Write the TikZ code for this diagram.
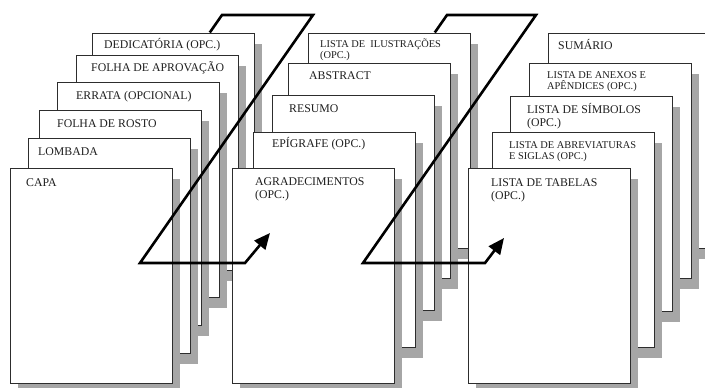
\documentclass[tikz,border=0pt]{standalone}
\usepackage{fontspec}
\setmainfont{Liberation Serif}
\usetikzlibrary{arrows.meta,shadows}
\definecolor{shadowgrey}{RGB}{166,166,166}
\definecolor{edgegrey}{RGB}{45,45,45}
\definecolor{inkgrey}{RGB}{30,30,30}
\tikzset{%
    page/.style={%
        draw=edgegrey, line width=1pt, fill=white, inner sep=0pt,
        anchor=north west, minimum width=162pt, minimum height=215pt,
        drop shadow={shadow xshift=7pt, shadow yshift=-10pt, fill=shadowgrey, opacity=1}
    },
    pagetext/.style={%
        anchor=base west, inner sep=0pt, text=inkgrey, align=left,
        font=\fontsize{11.8}{13}\selectfont
    },
    smalltext/.style={pagetext, font=\fontsize{10.4}{11.5}\selectfont},
    turn/.style={line width=2.6pt, -{Triangle[length=16pt,width=14pt]}}
}

\begin{document}
\begin{tikzpicture}[x=1pt, y=-1pt]
    \useasboundingbox (0,0) rectangle (705,388);
    \foreach \nm/\px/\py in {dedicatoria/92/33, aprovacao/76/55, errata/57/82,
        rosto/39/110, lombada/28/138, capa/10/168,
        ilustracoes/308/33, abstract/288/63, resumo/272/95, epigrafe/253/132,
        agradecimentos/232/168,
        sumario/548/33, anexos/529/63, simbolos/510/96, abreviaturas/492/132,
        tabelas/468/168}
    {
    \node[page] (\nm) at (\px,\py) {};
    }
    % two-line labels sit on the baseline of their last line
    \node[pagetext] (capa-txt) at (26,186) {CAPA};
    \node[pagetext] (lombada-txt) at (38,155) {LOMBADA};
    \node[pagetext] (rosto-txt) at (57,127) {FOLHA DE ROSTO};
    \node[pagetext] (errata-txt) at (76,99) {ERRATA (OPCIONAL)};
    \node[pagetext] (aprovacao-txt) at (91,71) {FOLHA DE APROVAÇÃO};
    \node[pagetext] (dedicatoria-txt) at (104,48) {DEDICATÓRIA (OPC.)};
    \node[smalltext] (ilustracoes-txt) at (320,58.5) {LISTA DE~ ILUSTRAÇÕES\\(OPC.)};
    \node[pagetext] (abstract-txt) at (309,79) {ABSTRACT};
    \node[pagetext] (resumo-txt) at (289,112) {RESUMO};
    \node[pagetext] (epigrafe-txt) at (272,147) {EPÍGRAFE (OPC.)};
    \node[pagetext] (agradecimentos-txt) at (255,198) {AGRADECIMENTOS\\(OPC.)};
    \node[pagetext] (sumario-txt) at (558,49) {SUMÁRIO};
    \node[smalltext] (anexos-txt) at (547,89.5) {LISTA DE ANEXOS E\\APÊNDICES (OPC.)};
    \node[pagetext] (simbolos-txt) at (527,126) {LISTA DE SÍMBOLOS\\(OPC.)};
    \node[smalltext] (abreviaturas-txt) at (509,159.5) {LISTA DE ABREVIATURAS\\E SIGLAS (OPC.)};
    \node[pagetext] (tabelas-txt) at (491,199) {LISTA DE TABELAS\\(OPC.)};
    \coordinate (turn1-tail) at (209.8,32.5);
    \coordinate (turn1-top) at (222,15);
    \coordinate (turn1-fold) at (313,15);
    \coordinate (turn1-low) at (140,263);
    \coordinate (turn1-bend) at (245,263);
    \coordinate (turn1-tip) at (270,233);
    \draw[turn] (turn1-tail) -- (turn1-top) -- (turn1-fold) -- (turn1-low)
        -- (turn1-bend) -- (turn1-tip);
    \coordinate (turn2-tail) at (434.8,32.5);
    \coordinate (turn2-top) at (447,15);
    \coordinate (turn2-fold) at (536,15);
    \coordinate (turn2-low) at (363,263);
    \coordinate (turn2-bend) at (485,263);
    \coordinate (turn2-tip) at (504,238);
    \draw[turn] (turn2-tail) -- (turn2-top) -- (turn2-fold) -- (turn2-low)
        -- (turn2-bend) -- (turn2-tip);
\end{tikzpicture}
\end{document}
